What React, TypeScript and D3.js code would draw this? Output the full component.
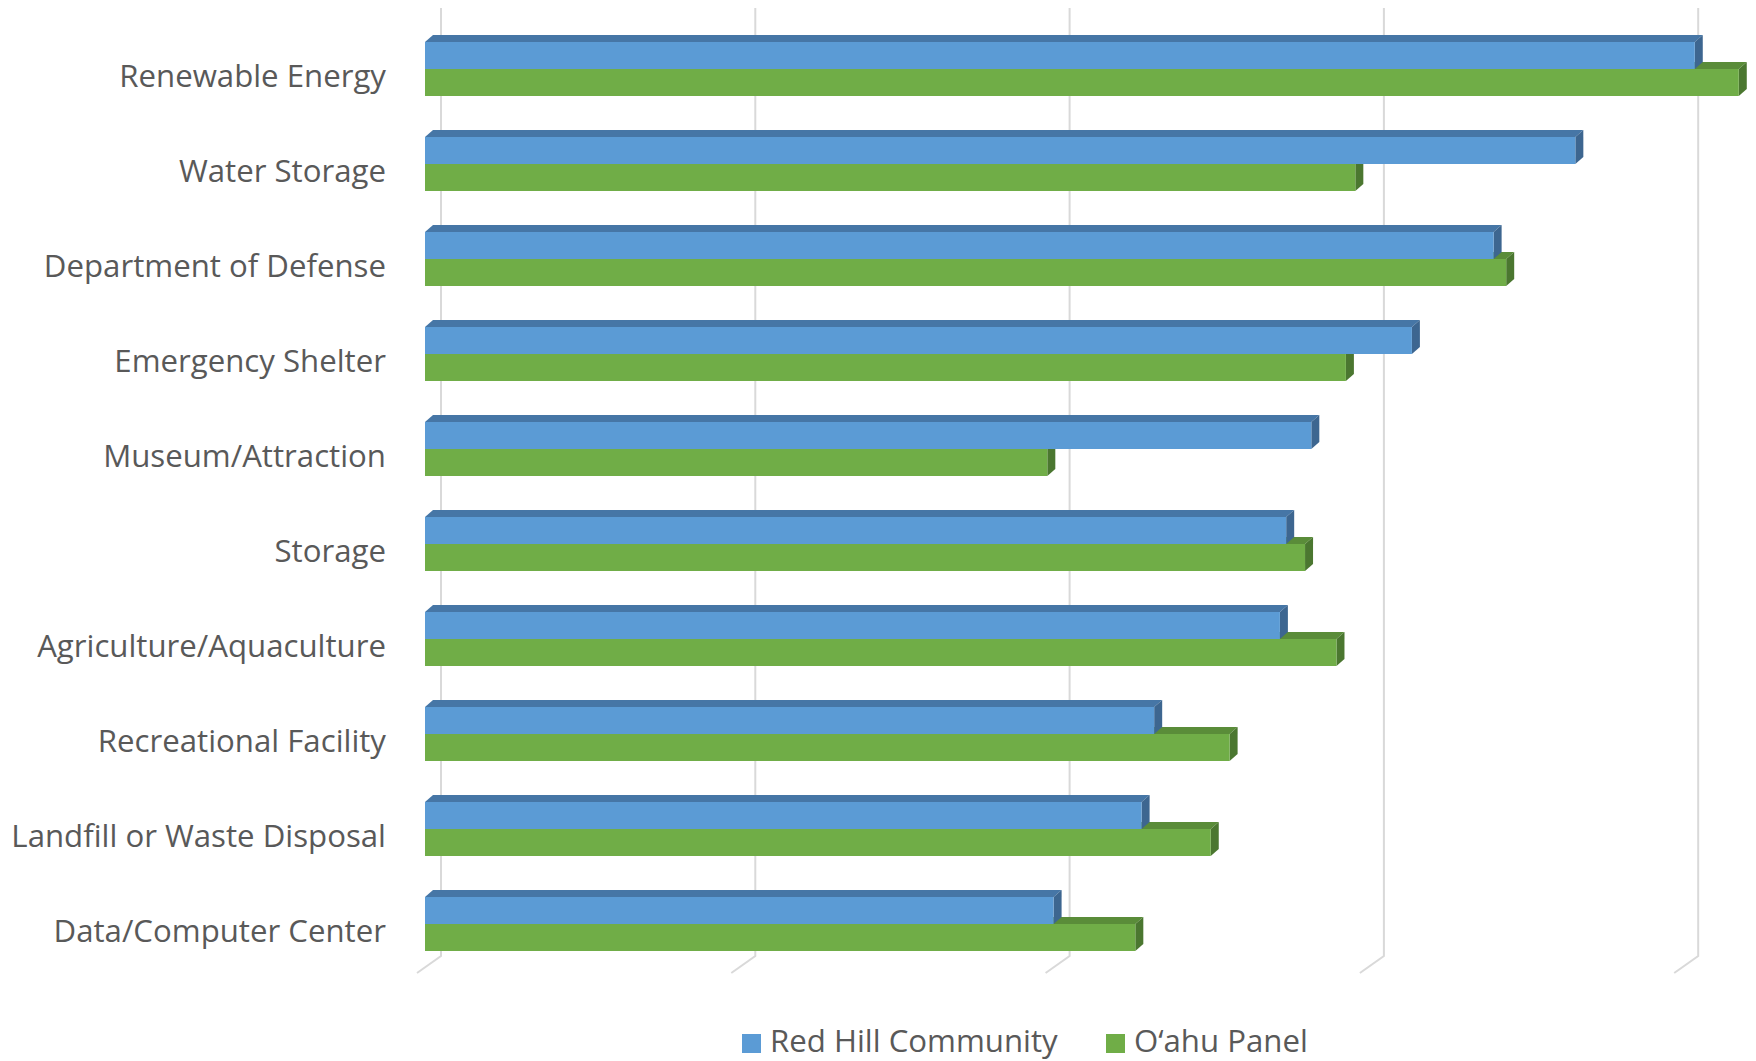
import React from "react";
import * as d3 from "d3";

const categories = [
  "Renewable Energy",
  "Water Storage",
  "Department of Defense",
  "Emergency Shelter",
  "Museum/Attraction",
  "Storage",
  "Agriculture/Aquaculture",
  "Recreational Facility",
  "Landfill or Waste Disposal",
  "Data/Computer Center",
];
const seriesNames = ["Red Hill Community", "O\u2018ahu Panel"];
const redHill = [4.04, 3.66, 3.4, 3.14, 2.82, 2.74, 2.72, 2.32, 2.28, 2.0];
const oahuPanel = [4.18, 2.96, 3.44, 2.93, 1.98, 2.8, 2.9, 2.56, 2.5, 2.26];
const tickValues = [0, 1, 2, 3, 4];

const W = 1756;
const H = 1061;

const palette = {
  blue: { front: "#5b9bd5", top: "#4676a6", side: "#3d6690" },
  green: { front: "#70ad47", top: "#5a8c39", side: "#4b7730" },
};

const FONT = "'Open Sans', 'Noto Sans', sans-serif";
const FS = 31.2;

export default function App() {
  const x = d3.scaleLinear().domain([0, 4.5]).range([425, 425 + 4.5 * 314.3]);
  const y = d3
    .scaleBand<string>()
    .domain(categories)
    .range([21.5, 971.5])
    .paddingInner(0.4316)
    .paddingOuter(0.2158);
  const ys = d3.scaleBand<string>().domain(seriesNames).range([0, y.bandwidth()]);

  const bdx = 8; // bar depth offset
  const bdy = 7;
  const wallDx = 16; // back wall offset from bar front
  const floorDx = 24;
  const floorDy = 17;
  const wallTop = 8;
  const wallBottom = 956;

  const bar = (
    key: string,
    v: number,
    top: number,
    h: number,
    c: { front: string; top: string; side: string }
  ) => {
    const x0 = x(0);
    const xe = x(v);
    const topFace = [
      [x0, top],
      [x0 + bdx, top - bdy],
      [xe + bdx, top - bdy],
      [xe, top],
    ];
    const side = [
      [xe, top],
      [xe + bdx, top - bdy],
      [xe + bdx, top + h - bdy],
      [xe, top + h],
    ];
    const pts = (p: number[][]) => p.map((q) => q.join(",")).join(" ");
    return (
      <g key={key}>
        <polygon points={pts(topFace)} fill={c.top} />
        <polygon points={pts(side)} fill={c.side} />
        <rect x={x0} y={top} width={xe - x0} height={h} fill={c.front} />
      </g>
    );
  };

  return (
    <svg
      width={W}
      height={H}
      viewBox={`0 0 ${W} ${H}`}
      style={{ position: "absolute", left: 0, top: 0, background: "#fff" }}
    >
      <rect x={0} y={0} width={W} height={H} fill="#ffffff" />
      {/* gridlines on back wall + floor */}
      <g fill="none" stroke="#d9d9d9" strokeWidth={2}>
        {tickValues.map((t) => {
          const xw = x(t) + wallDx;
          return (
            <path
              key={t}
              d={`M${xw},${wallTop} L${xw},${wallBottom} L${xw - floorDx},${wallBottom + floorDy}`}
            />
          );
        })}
      </g>
      {/* bars */}
      <g>
        {categories.map((cat, i) => {
          const b = y(cat)!;
          const hB = ys.bandwidth();
          return (
            <g key={cat}>
              {bar(cat + "-g", oahuPanel[i], b + ys(seriesNames[1])!, hB, palette.green)}
              {bar(cat + "-b", redHill[i], b + ys(seriesNames[0])!, hB, palette.blue)}
            </g>
          );
        })}
      </g>
      {/* category labels */}
      <g fontFamily={FONT} fontSize={FS} fill="#595959" textAnchor="end">
        {categories.map((cat) => (
          <text key={cat} x={386} y={y(cat)! + y.bandwidth() / 2 + 18}>
            {cat}
          </text>
        ))}
      </g>
      {/* legend */}
      <g fontFamily={FONT} fontSize={FS} fill="#595959">
        <rect x={742} y={1034} width={19} height={19} fill={palette.blue.front} />
        <text x={770} y={1052}>
          {seriesNames[0]}
        </text>
        <rect x={1106} y={1034} width={19} height={19} fill={palette.green.front} />
        <text x={1134} y={1052}>
          {seriesNames[1]}
        </text>
      </g>
    </svg>
  );
}
